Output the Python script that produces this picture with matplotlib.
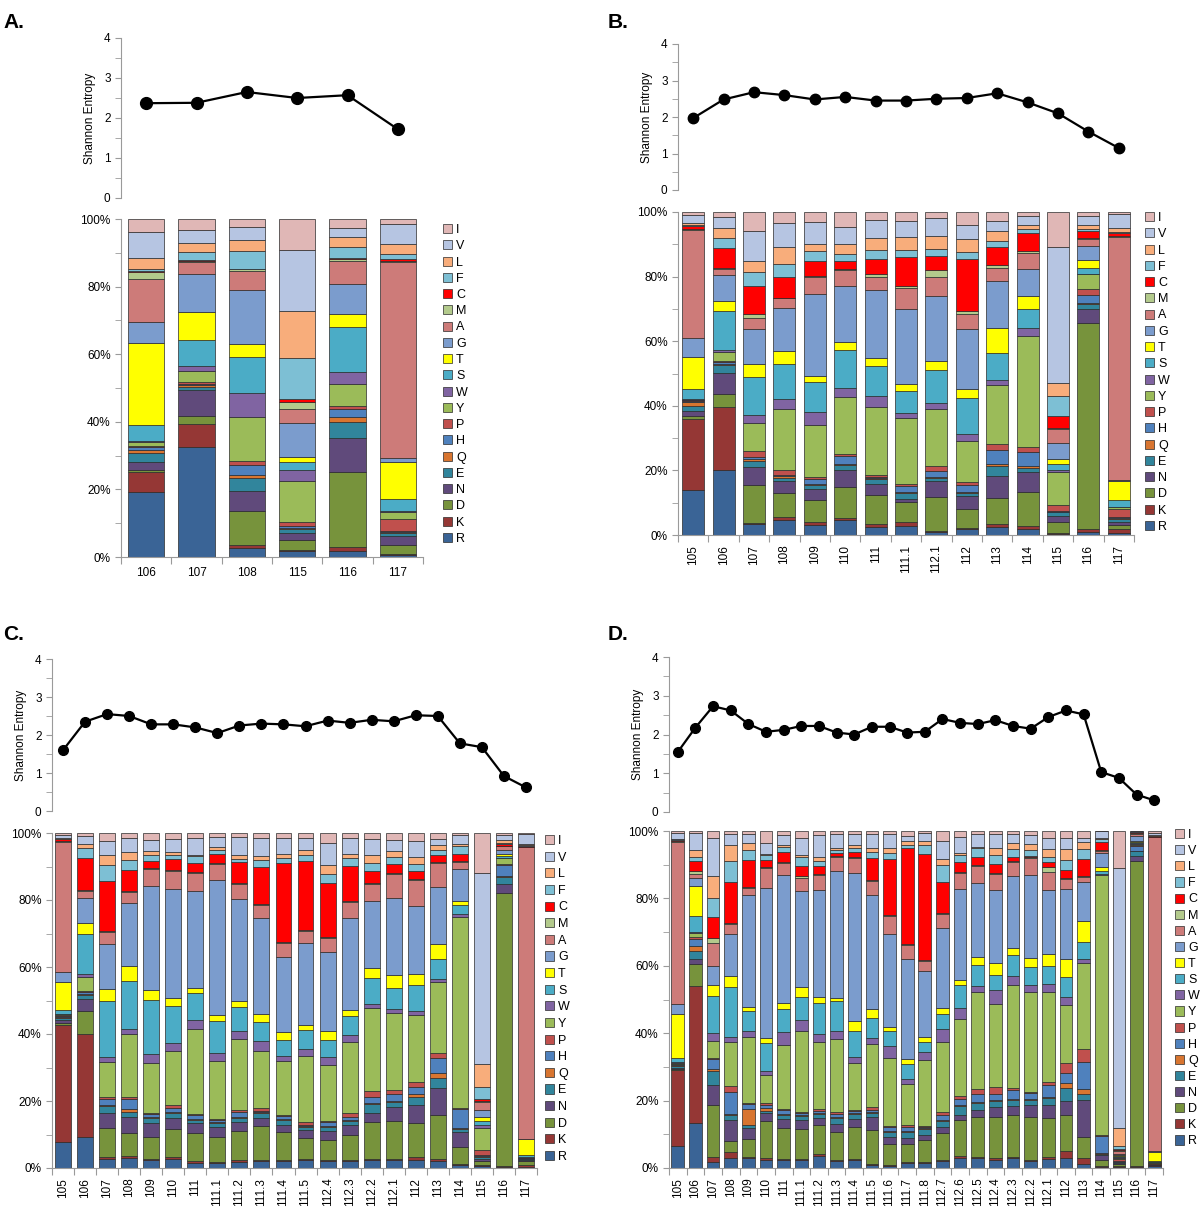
import numpy as np
import matplotlib.pyplot as plt
from matplotlib.ticker import MultipleLocator

plt.rcParams['font.family'] = ['Liberation Sans', 'DejaVu Sans']

W, H = 1200, 1210

# stacking order, bottom -> top
aa_order = ['R', 'K', 'D', 'N', 'E', 'Q', 'H', 'P', 'Y', 'W',
            'S', 'T', 'G', 'A', 'M', 'C', 'F', 'L', 'V', 'I']
aa_colors = ['#3A6496', '#953735', '#77933C', '#604A7B', '#31859C', '#D87530',
             '#4F81BD', '#C0504D', '#9BBB59', '#8064A2', '#4BACC6', '#FFFF00',
             '#7B9CCD', '#CD7B79', '#B3CA8C', '#FF0000', '#7DBFD4', '#F8AD7B',
             '#B6C5E2', '#E0B7B6']

########################## panel A ##########################
pos_A = ['106', '107', '108', '115', '116', '117']
ent_A = [2.37, 2.38, 2.65, 2.50, 2.57, 1.72]
comp_A = [
    [19.3, 5.9, 0.5, 2.3, 2.8, 1.0, 0.8, 0.3, 1.0, 0.4, 4.7, 24.4, 6.0, 12.8, 2.0, 0.3, 0.8, 3.3, 7.5, 3.9],
    [32.4, 6.9, 2.4, 7.6, 1.1, 0.4, 0.4, 0.7, 3.2, 1.4, 7.7, 8.2, 11.3, 3.5, 0.3, 0.3, 2.3, 2.8, 3.7, 3.4],
    [2.7, 0.8, 10.0, 6.0, 3.9, 0.8, 2.9, 1.3, 13.1, 7.1, 10.5, 3.8, 16.2, 5.6, 0.4, 0.2, 5.2, 3.3, 3.8, 2.4],
    [1.8, 0.2, 3.1, 2.0, 1.1, 0.4, 0.7, 1.2, 12.0, 3.2, 2.3, 1.6, 9.9, 4.2, 2.2, 0.9, 12.2, 13.8, 18.1, 9.1],
    [1.8, 1.2, 22.2, 9.9, 4.7, 1.7, 2.4, 0.8, 6.4, 3.5, 13.4, 3.9, 9.0, 6.8, 0.5, 0.2, 3.3, 2.9, 2.7, 2.7],
    [0.5, 0.5, 2.5, 2.8, 0.8, 0.3, 0.3, 3.4, 2.2, 0.2, 3.6, 11.0, 1.3, 58.0, 0.2, 0.5, 1.6, 2.9, 5.9, 1.5],
]

########################## panel B ##########################
pos_B = ['105', '106', '107', '108', '109', '110', '111', '111.1', '112.1',
         '112', '113', '114', '115', '116', '117']
ent_B = [1.97, 2.48, 2.68, 2.60, 2.48, 2.55, 2.45, 2.45, 2.50, 2.52, 2.65,
         2.40, 2.10, 1.60, 1.15]
comp_B = [
    [13.8, 22.2, 0.7, 1.7, 1.4, 1.4, 0.3, 0.2, 0.2, 0.2, 3.2, 9.9, 5.7, 33.6, 0.2, 1.0, 0.3, 0.7, 2.4, 0.9],
    [20.0, 19.6, 3.9, 6.7, 2.4, 0.3, 0.7, 0.3, 2.8, 0.5, 12.0, 3.4, 7.9, 1.8, 0.3, 6.2, 3.1, 3.1, 3.4, 1.6],
    [3.4, 0.3, 11.8, 5.5, 1.8, 0.7, 0.8, 1.7, 8.8, 2.5, 11.6, 3.9, 10.9, 3.6, 1.0, 8.9, 4.1, 3.4, 9.5, 5.8],
    [4.5, 1.0, 7.5, 3.6, 1.0, 0.6, 0.4, 1.4, 19.1, 3.1, 10.8, 4.0, 13.4, 2.9, 0.2, 6.3, 4.2, 5.3, 7.3, 3.4],
    [3.1, 0.8, 6.8, 3.6, 1.2, 0.3, 1.6, 0.5, 16.2, 4.1, 9.3, 1.6, 25.5, 5.3, 0.3, 4.6, 3.1, 2.3, 6.8, 3.0],
    [4.7, 0.6, 9.5, 5.2, 1.8, 0.3, 2.3, 0.8, 17.6, 2.7, 11.7, 2.6, 17.4, 4.9, 0.3, 2.5, 2.1, 3.1, 5.4, 4.5],
    [2.6, 0.8, 9.0, 3.4, 1.4, 0.3, 0.6, 0.5, 21.0, 3.5, 9.3, 2.5, 21.0, 4.1, 0.8, 4.6, 2.9, 3.6, 5.7, 2.4],
    [2.9, 1.0, 6.2, 1.1, 1.8, 0.3, 2.0, 0.5, 20.5, 1.6, 6.7, 2.3, 23.0, 6.5, 0.7, 8.9, 2.1, 4.1, 5.1, 2.7],
    [1.0, 0.3, 10.4, 4.9, 1.0, 0.3, 1.8, 1.6, 17.6, 2.1, 10.0, 2.8, 20.3, 5.9, 1.9, 4.5, 2.1, 4.2, 5.4, 1.9],
    [1.9, 0.3, 5.9, 4.1, 0.8, 0.2, 2.3, 0.9, 12.7, 2.3, 11.0, 2.7, 18.7, 4.5, 0.9, 16.3, 2.1, 4.0, 4.5, 3.9],
    [2.4, 1.0, 8.0, 7.0, 3.1, 0.5, 4.4, 1.8, 18.2, 1.7, 8.3, 7.8, 14.3, 4.3, 0.8, 5.7, 1.6, 3.1, 3.3, 2.7],
    [1.9, 1.0, 10.4, 6.2, 1.3, 0.7, 4.2, 1.5, 34.4, 2.4, 5.9, 4.2, 8.2, 5.0, 0.5, 5.7, 1.3, 1.1, 3.0, 1.1],
    [0.3, 0.2, 3.4, 2.1, 1.0, 0.2, 0.3, 1.8, 10.2, 0.5, 2.0, 1.6, 5.0, 4.3, 0.2, 3.8, 6.1, 4.2, 42.1, 10.7],
    [1.0, 0.9, 63.6, 4.4, 1.7, 0.2, 2.5, 1.8, 4.6, 0.2, 1.9, 2.2, 4.6, 2.0, 0.2, 2.2, 0.8, 1.3, 2.8, 1.1],
    [0.5, 1.5, 1.1, 1.0, 0.8, 0.3, 0.5, 2.2, 0.7, 0.2, 1.9, 6.0, 0.3, 75.4, 0.2, 1.0, 0.3, 1.1, 4.4, 0.6],
]

########################## panel C ##########################
pos_C = ['105', '106', '107', '108', '109', '110', '111', '111.1', '111.2',
         '111.3', '111.4', '111.5', '112.4', '112.3', '112.2', '112.1', '112',
         '113', '114', '115', '116', '117']
ent_C = [1.60, 2.35, 2.55, 2.50, 2.28, 2.28, 2.20, 2.05, 2.25, 2.30, 2.28,
         2.23, 2.38, 2.32, 2.40, 2.36, 2.52, 2.50, 1.78, 1.68, 0.92, 0.62]
comp_C = [
    [7.9, 34.7, 0.8, 0.7, 0.7, 0.3, 0.3, 0.3, 0.2, 0.2, 1.2, 8.2, 3.1, 38.7, 0.2, 0.6, 0.2, 0.2, 1.0, 0.5],
    [9.2, 30.7, 7.1, 3.3, 1.2, 0.3, 0.7, 0.4, 4.2, 0.8, 11.9, 3.3, 7.6, 2.0, 0.2, 9.7, 2.9, 1.2, 2.3, 1.0],
    [2.7, 0.6, 8.6, 4.6, 2.0, 0.3, 1.7, 0.6, 10.6, 1.5, 16.6, 3.7, 13.5, 3.3, 0.3, 15.2, 4.6, 3.0, 4.3, 2.3],
    [3.0, 0.5, 6.9, 4.9, 1.5, 0.8, 3.0, 0.7, 18.8, 1.5, 14.3, 4.5, 18.8, 3.3, 0.2, 6.2, 2.9, 2.6, 4.1, 1.5],
    [2.5, 0.3, 6.6, 4.0, 1.5, 0.4, 0.8, 0.4, 14.9, 2.6, 16.2, 2.8, 31.2, 5.1, 0.3, 2.0, 1.7, 1.3, 3.4, 2.0],
    [2.7, 0.5, 8.4, 3.3, 1.4, 0.3, 1.2, 1.0, 16.1, 2.4, 11.2, 2.3, 32.4, 5.4, 0.3, 3.2, 1.3, 1.0, 3.9, 1.7],
    [1.5, 0.7, 8.2, 3.0, 1.0, 0.3, 1.1, 0.4, 25.2, 2.9, 7.9, 1.6, 28.9, 5.4, 0.3, 2.7, 2.0, 0.3, 5.1, 1.5],
    [1.5, 0.2, 7.7, 2.8, 1.2, 0.3, 0.6, 0.3, 17.4, 2.4, 9.4, 2.0, 40.3, 4.7, 0.3, 2.5, 1.4, 0.7, 3.0, 1.3],
    [1.8, 0.7, 8.4, 2.8, 1.3, 0.3, 1.4, 0.6, 21.3, 2.3, 7.3, 1.8, 30.2, 4.5, 0.3, 6.3, 1.0, 1.0, 5.4, 1.3],
    [2.0, 0.3, 10.1, 2.5, 1.4, 0.3, 0.5, 0.7, 17.1, 3.0, 5.7, 2.4, 28.6, 3.9, 0.2, 11.1, 2.0, 1.3, 5.4, 1.5],
    [2.0, 0.3, 8.3, 2.3, 1.5, 0.3, 0.8, 0.3, 16.1, 1.6, 4.6, 2.5, 22.3, 4.4, 0.3, 23.5, 1.5, 1.2, 4.7, 1.5],
    [2.3, 0.3, 6.3, 2.5, 0.8, 0.3, 0.4, 0.7, 19.9, 1.9, 5.7, 1.5, 24.5, 3.5, 0.3, 20.8, 1.7, 1.5, 3.7, 1.4],
    [2.0, 0.3, 6.1, 2.5, 1.3, 0.3, 1.1, 0.3, 16.8, 2.5, 5.1, 2.6, 23.5, 4.4, 0.3, 16.1, 2.7, 2.6, 6.6, 2.9],
    [2.0, 0.5, 7.4, 3.0, 1.0, 0.3, 1.1, 1.2, 21.1, 2.0, 5.9, 1.8, 27.2, 5.0, 0.3, 10.3, 2.5, 1.2, 4.7, 1.5],
    [2.5, 0.3, 10.8, 2.9, 2.5, 0.3, 1.8, 2.0, 24.6, 1.3, 7.6, 3.0, 20.1, 5.0, 0.3, 3.8, 2.3, 2.2, 4.9, 1.8],
    [2.3, 0.4, 11.4, 4.0, 1.7, 0.3, 2.0, 1.2, 22.9, 1.3, 6.3, 3.9, 23.0, 7.1, 0.3, 2.7, 2.0, 1.8, 3.4, 2.0],
    [2.3, 0.9, 10.2, 5.4, 2.5, 0.8, 2.2, 1.4, 20.0, 1.3, 7.5, 3.4, 20.3, 7.9, 0.3, 2.4, 1.8, 2.3, 4.8, 2.3],
    [2.0, 0.7, 13.1, 8.2, 3.0, 1.4, 4.5, 1.3, 21.2, 1.0, 6.0, 4.6, 16.9, 7.0, 0.3, 2.1, 1.7, 1.3, 2.0, 1.7],
    [1.0, 0.3, 5.1, 4.2, 1.0, 0.2, 5.7, 0.5, 56.8, 0.9, 2.7, 1.3, 9.7, 2.0, 0.2, 2.2, 2.2, 0.7, 2.6, 0.7],
    [0.5, 0.3, 1.2, 0.6, 0.6, 0.3, 0.5, 1.4, 6.5, 1.0, 1.0, 1.4, 2.0, 2.5, 0.2, 0.5, 3.8, 6.7, 57.1, 11.9],
    [0.3, 0.2, 81.7, 2.7, 1.9, 0.3, 3.3, 0.3, 1.7, 0.2, 0.5, 0.7, 1.2, 1.0, 0.2, 0.4, 0.4, 1.0, 1.5, 0.5],
    [0.3, 0.7, 1.0, 0.3, 0.3, 0.1, 0.2, 0.1, 0.1, 0.1, 0.8, 4.6, 0.2, 86.9, 0.2, 0.2, 0.2, 0.5, 2.9, 0.3],
]

########################## panel D ##########################
pos_D = ['105', '106', '107', '108', '109', '110', '111', '111.1', '111.2',
         '111.3', '111.4', '111.5', '111.6', '111.7', '111.8', '112.7', '112.6',
         '112.5', '112.4', '112.3', '112.2', '112.1', '112', '113', '114',
         '115', '116', '117']
ent_D = [1.55, 2.18, 2.73, 2.62, 2.27, 2.07, 2.12, 2.22, 2.22, 2.05, 2.00,
         2.20, 2.20, 2.05, 2.07, 2.40, 2.30, 2.27, 2.37, 2.22, 2.15, 2.45,
         2.62, 2.52, 1.03, 0.88, 0.45, 0.30]
comp_D = [
    [6.6, 22.4, 0.4, 0.4, 0.5, 0.2, 0.3, 0.2, 0.2, 0.2, 1.2, 13.1, 3.0, 48.0, 0.2, 0.4, 0.2, 0.2, 1.8, 0.5],
    [13.3, 40.8, 6.4, 1.4, 2.5, 1.5, 2.2, 0.3, 1.4, 0.3, 4.6, 8.9, 2.6, 1.0, 0.8, 3.0, 1.4, 2.0, 4.9, 0.7],
    [1.7, 1.7, 15.3, 5.9, 4.2, 0.7, 2.9, 0.3, 4.9, 2.4, 11.1, 3.2, 5.7, 6.9, 1.4, 6.1, 5.7, 6.6, 11.1, 2.2],
    [3.1, 1.5, 3.5, 6.2, 1.4, 0.3, 6.6, 1.8, 13.0, 1.4, 14.8, 3.4, 12.5, 3.0, 0.3, 12.0, 6.2, 4.7, 3.3, 1.0],
    [3.1, 0.3, 5.2, 3.2, 1.0, 4.6, 1.5, 0.3, 19.6, 2.0, 5.9, 1.0, 33.4, 2.0, 0.3, 8.0, 3.0, 2.0, 2.6, 1.0],
    [2.5, 0.6, 10.9, 2.2, 0.8, 0.9, 0.8, 0.7, 8.1, 1.3, 8.3, 1.4, 44.6, 5.9, 0.3, 2.1, 1.5, 0.3, 3.3, 3.5],
    [2.3, 0.3, 9.2, 2.7, 1.2, 0.3, 1.2, 0.4, 18.8, 3.9, 6.9, 1.7, 37.9, 3.7, 0.3, 3.1, 1.5, 0.3, 3.2, 1.1],
    [2.5, 0.3, 8.7, 2.8, 1.1, 0.3, 0.7, 0.3, 24.1, 3.2, 6.8, 3.0, 28.5, 3.9, 0.3, 3.0, 2.9, 0.5, 4.9, 2.2],
    [3.6, 0.6, 8.6, 1.9, 1.3, 0.3, 0.7, 0.4, 20.0, 2.4, 9.2, 1.8, 31.8, 4.4, 0.3, 2.2, 1.7, 1.2, 6.4, 1.2],
    [2.0, 0.5, 8.3, 2.2, 1.7, 0.3, 1.0, 0.7, 21.6, 2.3, 9.1, 0.7, 37.6, 4.4, 0.3, 0.7, 1.0, 0.7, 3.9, 1.0],
    [2.3, 0.4, 9.6, 2.2, 1.5, 0.3, 0.7, 0.3, 13.9, 1.7, 7.7, 3.0, 43.9, 4.4, 0.3, 1.7, 1.0, 0.8, 3.3, 1.0],
    [0.8, 0.5, 10.0, 3.9, 1.2, 0.3, 0.5, 0.8, 18.9, 1.7, 5.8, 2.8, 33.7, 4.4, 0.3, 6.5, 1.8, 1.0, 4.1, 1.0],
    [0.5, 0.3, 6.4, 2.1, 1.5, 0.2, 1.1, 0.3, 20.3, 3.4, 4.5, 1.2, 27.5, 5.4, 0.3, 16.6, 1.8, 1.5, 4.1, 1.0],
    [1.5, 0.3, 5.4, 1.6, 2.0, 0.3, 1.0, 0.7, 12.1, 1.4, 4.7, 1.4, 29.7, 4.1, 0.3, 28.4, 1.0, 1.0, 1.6, 1.5],
    [1.5, 0.3, 6.6, 1.4, 1.7, 0.3, 0.5, 0.3, 19.4, 2.4, 3.0, 1.4, 19.7, 3.0, 0.3, 31.3, 2.6, 1.4, 2.2, 0.7],
    [2.0, 0.3, 8.0, 2.0, 1.7, 0.3, 1.4, 1.0, 20.8, 3.7, 4.6, 1.7, 23.6, 4.4, 0.3, 9.2, 4.9, 1.8, 5.4, 2.9],
    [3.1, 0.5, 10.6, 1.5, 2.6, 0.3, 2.0, 0.7, 23.0, 3.1, 6.8, 1.7, 26.9, 4.7, 0.3, 2.9, 2.1, 0.8, 4.7, 1.7],
    [2.9, 0.3, 12.0, 2.0, 2.1, 0.3, 2.3, 1.4, 29.0, 1.6, 6.4, 2.2, 22.1, 5.1, 0.3, 2.2, 2.9, 0.3, 3.8, 0.8],
    [2.3, 0.6, 12.3, 2.9, 1.7, 0.3, 1.8, 2.1, 24.7, 4.0, 4.7, 3.4, 21.7, 4.8, 0.3, 2.6, 2.6, 2.3, 3.9, 1.0],
    [2.9, 0.3, 12.5, 2.6, 2.0, 0.3, 2.4, 0.7, 30.7, 2.5, 6.3, 2.2, 21.2, 4.1, 0.3, 1.2, 2.4, 1.8, 2.6, 1.0],
    [2.0, 0.3, 12.9, 3.4, 1.7, 0.3, 1.7, 0.4, 29.6, 1.9, 5.3, 2.8, 24.7, 5.0, 0.3, 0.3, 1.8, 1.7, 2.7, 1.2],
    [2.6, 0.6, 11.5, 3.9, 2.3, 0.3, 3.3, 1.0, 26.8, 2.3, 5.2, 3.7, 18.9, 5.3, 1.5, 1.7, 1.3, 2.4, 3.4, 2.0],
    [3.1, 1.8, 10.8, 4.2, 3.9, 1.5, 2.8, 3.0, 17.4, 2.2, 5.9, 5.4, 20.8, 3.0, 0.3, 2.3, 3.0, 3.2, 3.4, 2.0],
    [1.3, 1.6, 6.4, 11.0, 1.6, 1.4, 8.1, 3.9, 25.5, 1.2, 5.0, 6.3, 11.7, 1.3, 0.3, 5.1, 2.9, 2.2, 1.2, 2.0],
    [0.3, 0.3, 1.9, 1.4, 0.3, 0.2, 5.1, 0.3, 77.0, 0.3, 0.9, 1.3, 4.1, 0.8, 0.2, 2.4, 0.9, 0.2, 2.0, 0.1],
    [0.3, 0.3, 0.5, 0.3, 0.3, 0.2, 0.3, 0.5, 0.3, 0.3, 0.3, 0.2, 0.3, 1.0, 0.2, 0.3, 0.8, 5.6, 76.9, 11.1],
    [0.3, 0.2, 90.7, 1.6, 1.3, 0.2, 1.3, 0.3, 0.3, 0.2, 0.5, 0.2, 1.5, 0.7, 0.1, 0.3, 0.1, 0.1, 0.1, 0.1],
    [0.5, 0.3, 0.2, 0.2, 0.1, 0.1, 0.1, 0.1, 0.1, 0.1, 0.4, 2.5, 0.2, 93.2, 0.1, 0.3, 0.1, 0.1, 0.8, 0.5],
]

GRAY = '#9a9a9a'
FS = 8.5

fig = plt.figure(figsize=(W / 100, H / 100), dpi=100)


def px_axes(l, t, r, b):
    return fig.add_axes([l / W, 1 - b / H, (r - l) / W, (b - t) / H])


def panel(letter, letter_xy, pos, ent, comp, top_y, bar_box, leg_x, leg_top, leg_ls, rot, ms):
    n = len(pos)
    x = np.arange(n)
    l, t, r, b = bar_box

    # entropy line
    axt = px_axes(l, top_y[0], r, top_y[1])
    axt.plot(x, ent, color='black', lw=1.6, marker='o', ms=ms)
    axt.set_xlim(-0.5, n - 0.5)
    axt.set_ylim(0, 4)
    for s in ['top', 'right', 'bottom']:
        axt.spines[s].set_visible(False)
    axt.spines['left'].set_color(GRAY)
    axt.set_xticks([])
    axt.yaxis.set_major_locator(MultipleLocator(1))
    axt.yaxis.set_minor_locator(MultipleLocator(0.5))
    axt.tick_params(axis='y', which='both', direction='out', length=4,
                    color=GRAY, labelsize=FS)
    axt.set_ylabel('Shannon Entropy', fontsize=FS, labelpad=6)
    axt.patch.set_alpha(0)

    # stacked composition bars
    data = np.array(comp, dtype=float)
    data = data / data.sum(axis=1, keepdims=True) * 100
    axb = px_axes(l, t, r, b)
    bottom = np.zeros(n)
    for j, aa in enumerate(aa_order):
        axb.bar(x, data[:, j], 0.72, bottom=bottom, color=aa_colors[j],
                edgecolor='#2a2a2a', linewidth=0.5, label=aa)
        bottom += data[:, j]
    axb.set_xlim(-0.5, n - 0.5)
    axb.set_ylim(0, 100)
    for s in ['top', 'right']:
        axb.spines[s].set_visible(False)
    axb.spines['left'].set_color(GRAY)
    axb.spines['bottom'].set_color(GRAY)
    axb.set_yticks(np.arange(0, 101, 20))
    axb.set_yticklabels(['%d%%' % v for v in range(0, 101, 20)])
    axb.yaxis.set_minor_locator(MultipleLocator(10))
    axb.set_xticks(np.arange(n + 1) - 0.5)
    axb.set_xticklabels([])
    axb.set_xticks(x, minor=True)
    axb.set_xticklabels(pos, minor=True, rotation=rot)
    axb.tick_params(axis='y', which='both', direction='out', length=4,
                    color=GRAY, labelsize=FS)
    axb.tick_params(axis='x', which='major', direction='out', length=5, color=GRAY)
    axb.tick_params(axis='x', which='minor', length=0, labelsize=FS, pad=7)

    h, lab = axb.get_legend_handles_labels()
    axb.legend(h[::-1], lab[::-1], loc='upper left',
               bbox_to_anchor=(leg_x / W, 1 - leg_top / H),
               bbox_transform=fig.transFigure, frameon=False, fontsize=FS + 0.5,
               handlelength=0.75, handleheight=0.75, handletextpad=0.3,
               labelspacing=leg_ls, borderpad=0, borderaxespad=0)

    fig.text(letter_xy[0] / W, 1 - letter_xy[1] / H, letter, fontsize=15,
             fontweight='bold', ha='left', va='baseline')


panel('A.', (3, 28), pos_A, ent_A, comp_A, (38, 198), (121, 219, 423, 557),
      443, 224, 0.34, 0, 8.5)
panel('B.', (608, 28), pos_B, ent_B, comp_B, (44, 190), (678, 212, 1134, 535),
      1145, 212, 0.34, 90, 7.5)
panel('C.', (3, 640), pos_C, ent_C, comp_C, (659, 811), (52, 833, 537, 1168),
      545, 835, 0.37, 90, 7)
panel('D.', (608, 640), pos_D, ent_D, comp_D, (657, 812), (669, 831, 1163, 1168),
      1175, 829, 0.33, 90, 7)

fig.savefig('out.png', dpi=100)
